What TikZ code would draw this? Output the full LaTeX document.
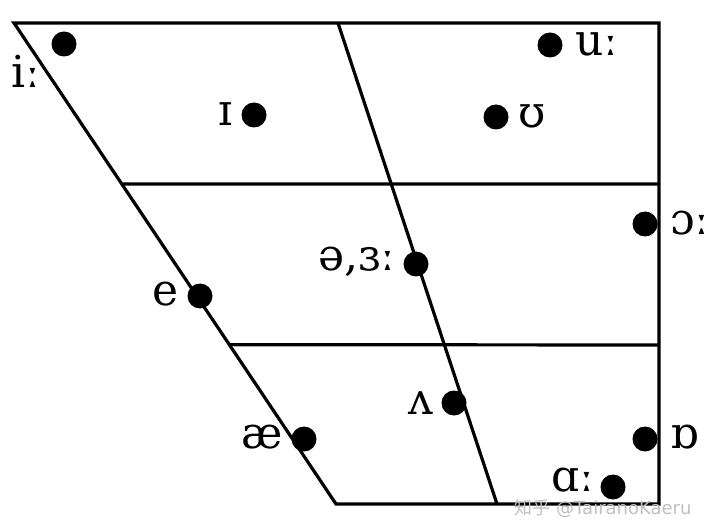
\documentclass[tikz,border=0pt]{standalone}
\usepackage{fontspec}
\usetikzlibrary{calc}
\setmainfont{DejaVu Serif}
\newfontfamily\cjkfont{Noto Sans CJK SC}
\newfontfamily\wmfont{DejaVu Sans}
\begin{document}
\begin{tikzpicture}[x=1pt,y=-1pt,
  edge/.style={line width=3.2pt,line join=miter},
  vdot/.style={circle,fill=black,inner sep=0pt,minimum size=25pt},
  lab/.style={inner sep=0pt,font=\fontsize{44}{48}\selectfont}]
\useasboundingbox (0,0) rectangle (720,529);
% frame corners
\coordinate (tl) at (14,23);
\coordinate (tr) at (659,23);
\coordinate (br) at (659,504);
\coordinate (bl) at (336,504);
\coordinate (tm) at (338,23);
\coordinate (bm) at (497,504);
\coordinate (h1l) at ($(tl)!0.3347!(bl)$);
\coordinate (h1r) at (659,184);
\coordinate (h2l) at ($(tl)!0.6687!(bl)$);
\coordinate (h2r) at (659,345);
\draw[edge] (tl) -- (tr) -- (br) -- (bl) -- cycle;
\draw[edge] (tm) -- (bm);
\draw[edge] (h1l) -- (h1r);
\draw[edge] (h2l) -- (h2r);
% vowels
\node[vdot] (d1) at (64,44) {};
\node[lab] (l1) at (26,71) {iː};
\node[vdot] (d2) at (254,115) {};
\node[lab] (l2) at (226,114) {ɪ};
\node[vdot] (d3) at (550,45) {};
\node[lab] (l3) at (597,44) {uː};
\node[vdot] (d4) at (496,117) {};
\node[lab] (l4) at (532,116) {ʊ};
\node[vdot] (d5) at (645,224) {};
\node[lab] (l5) at (690,223) {ɔː};
\node[vdot] (d6) at (416,264) {};
\node[lab] (l6) at (357,262) {ə,ɜː};
\node[vdot] (d7) at (200,296) {};
\node[lab] (l7) at (166,294) {e};
\node[vdot] (d8) at (454,403) {};
\node[lab] (l8) at (421,403) {ʌ};
\node[vdot] (d9) at (304,439) {};
\node[lab] (l9) at (262,437) {æ};
\node[vdot] (d10) at (645,439) {};
\node[lab] (l10) at (685,437) {ɒ};
\node[vdot] (d11) at (613,487) {};
\node[lab] (l11) at (573,480) {ɑː};
% watermark
\node[inner sep=0pt,text=black!25,font=\fontsize{18}{20}\selectfont] (wm) at (603,508) {{\cjkfont 知乎} {\wmfont @TairanoKaeru}};
\end{tikzpicture}
\end{document}
